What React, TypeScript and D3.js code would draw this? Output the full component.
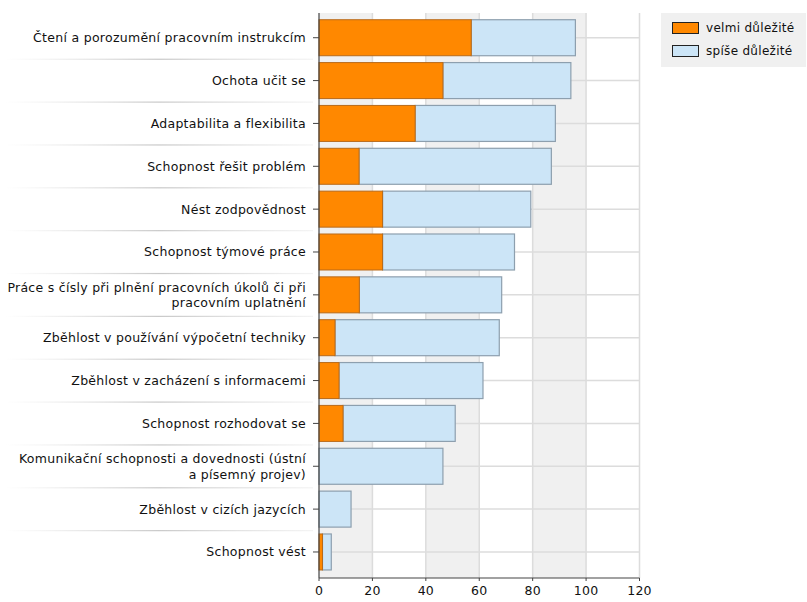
import React from "react";
import * as d3 from "d3";

const categories = [
  "Čtení a porozumění pracovním instrukcím",
  "Ochota učit se",
  "Adaptabilita a flexibilita",
  "Schopnost řešit problém",
  "Nést zodpovědnost",
  "Schopnost týmové práce",
  "Práce s čísly při plnění pracovních úkolů či při\npracovním uplatnění",
  "Zběhlost v používání výpočetní techniky",
  "Zběhlost v zacházení s informacemi",
  "Schopnost rozhodovat se",
  "Komunikační schopnosti a dovednosti (ústní\na písemný projev)",
  "Zběhlost v cizích jazycích",
  "Schopnost vést",
];

const velmi = [57, 46.4, 36, 15, 23.8, 23.8, 15.1, 6, 7.5, 9, 0, 0, 1.3];
const spise = [39, 47.9, 52.5, 72, 55.5, 49.4, 53.3, 61.5, 53.9, 42, 46.4, 12, 3.3];

const seriesNames = ["velmi důležité", "spíše důležité"];
const xTicks = [0, 20, 40, 60, 80, 100, 120];

const W = 807;
const H = 602;
const FONT = "'DejaVu Sans', Verdana, sans-serif";

export default function App() {
  const x = d3.scaleLinear().domain([0, 120]).range([319, 639.5]);
  const y = d3
    .scaleBand<string>()
    .domain(categories)
    .range([16.3, 573.4])
    .paddingInner(0.16)
    .paddingOuter(0.08);
  const step = y.step();
  const plotTop = 13;
  const plotBottom = 578;

  const colors = {
    orange: "#ff8800",
    orangeStroke: "#b86a1a",
    blue: "#cce5f7",
    blueStroke: "#8d9fae",
  };

  const bands = [0, 40, 80];

  return (
    <div style={{ position: "absolute", left: 0, top: 0 }}>
      <svg width={W} height={H} style={{ display: "block", fontFamily: FONT }}>
        <defs>
          <linearGradient id="sep" x1="0" x2="1" y1="0" y2="0">
            <stop offset="0" stopColor="#d8d8d8" stopOpacity="0" />
            <stop offset="0.5" stopColor="#c8c8c8" stopOpacity="1" />
            <stop offset="1" stopColor="#d8d8d8" stopOpacity="0.3" />
          </linearGradient>
        </defs>
        <rect x={0} y={0} width={W} height={H} fill="#fff" />
        {bands.map((b) => (
          <rect
            key={"band" + b}
            x={x(b)}
            y={plotTop}
            width={x(b + 20) - x(b)}
            height={plotBottom - plotTop}
            fill="#f0f0f0"
          />
        ))}
        {xTicks.slice(1).map((t) => (
          <line
            key={"vg" + t}
            x1={x(t)}
            x2={x(t)}
            y1={plotTop}
            y2={plotBottom}
            stroke="#dcdcdc"
            strokeWidth={1.5}
          />
        ))}
        {categories.map((c) => {
          const cy = (y(c) as number) + y.bandwidth() / 2;
          return (
            <line
              key={"hg" + c}
              x1={x(0)}
              x2={x(120)}
              y1={cy}
              y2={cy}
              stroke="#dcdcdc"
              strokeWidth={1.5}
            />
          );
        })}
        {categories.slice(1).map((c) => {
          const sy = (y(c) as number) + y.bandwidth() / 2 - step / 2;
          return (
            <rect key={"sep" + c} x={5} y={sy - 0.5} width={308} height={1.2} fill="url(#sep)" />
          );
        })}
        {categories.map((c, i) => {
          const by = y(c) as number;
          const bh = y.bandwidth();
          return (
            <g key={"bar" + c}>
              {spise[i] > 0 && (
                <rect
                  x={x(velmi[i])}
                  y={by}
                  width={x(velmi[i] + spise[i]) - x(velmi[i])}
                  height={bh}
                  fill={colors.blue}
                  stroke={colors.blueStroke}
                  strokeWidth={1.2}
                />
              )}
              {velmi[i] > 0 && (
                <rect
                  x={x(0)}
                  y={by}
                  width={x(velmi[i]) - x(0)}
                  height={bh}
                  fill={colors.orange}
                  stroke={colors.orangeStroke}
                  strokeWidth={1}
                />
              )}
            </g>
          );
        })}
        <line x1={x(0)} x2={x(0)} y1={plotTop} y2={plotBottom} stroke="#444" strokeWidth={1.2} />
        <line x1={x(0)} x2={x(120)} y1={plotBottom} y2={plotBottom} stroke="#444" strokeWidth={1.2} />
        {xTicks.map((t) => (
          <g key={"xt" + t}>
            <line x1={x(t)} x2={x(t)} y1={plotBottom} y2={plotBottom + 3} stroke="#444" />
            <text x={x(t)} y={595} textAnchor="middle" fontSize={12.5} letterSpacing={0.2} fill="#111">
              {t}
            </text>
          </g>
        ))}
        {categories.map((c) => {
          const cy = (y(c) as number) + y.bandwidth() / 2;
          const lines = c.split("\n");
          const lh = 15.5;
          return (
            <g key={"yl" + c}>
              <line x1={313} x2={319} y1={cy} y2={cy} stroke="#444" />
              <text textAnchor="end" fontSize={12.5} letterSpacing={0.28} fill="#111">
                {lines.map((l, k) => (
                  <tspan key={k} x={306} y={cy + 4.5 + (k - (lines.length - 1) / 2) * lh}>
                    {l}
                  </tspan>
                ))}
              </text>
            </g>
          );
        })}
        <rect x={661} y={13} width={145} height={54} fill="#f0f0f0" />
        {seriesNames.map((s, i) => {
          const ly = 28 + i * 23;
          return (
            <g key={"lg" + s}>
              <rect
                x={672.5}
                y={ly - 5.5}
                width={26}
                height={11}
                fill={i === 0 ? colors.orange : colors.blue}
                stroke="#222"
                strokeWidth={1}
              />
              <text x={706} y={ly + 4.3} fontSize={12} letterSpacing={0.3} fill="#111">
                {s}
              </text>
            </g>
          );
        })}
      </svg>
    </div>
  );
}
